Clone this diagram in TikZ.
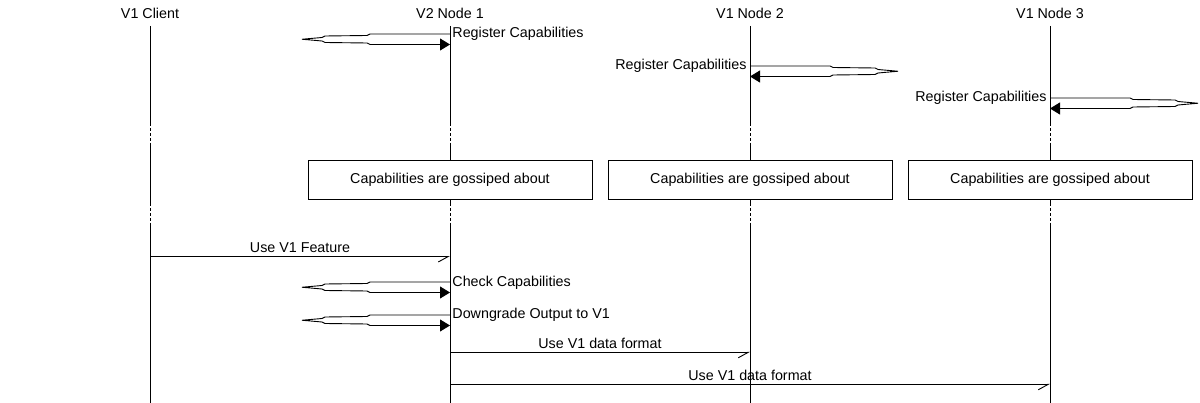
\documentclass[tikz,border=0pt]{standalone}
\usepackage{fontspec}
\setmainfont{Liberation Sans}
\usetikzlibrary{arrows.meta}
\newcommand\selfmsg[3]{%
  \begin{scope}[shift={(#1 |- 0,#2)}, xscale=#3]
    \draw (0,0) -- (80,0) -- (83,1.5) -- (125,2) -- (128,3.5) -- (148,5.25)
          -- (128,7) -- (125,8.5) -- (83,9) -- (80,10.5);
    \draw[syncarrow] (80,10.5) -- (0,10.5);
  \end{scope}}
\begin{document}
\begin{tikzpicture}[x=1pt,y=-1pt,line width=0.9pt,
  every node/.style={font=\fontsize{14.3}{17}\selectfont, inner sep=0pt},
  head/.style={anchor=base},
  gossip/.style={draw, fill=white, minimum width=284pt, minimum height=39pt},
  gapline/.style={dash pattern=on 3pt off 2pt},
  syncarrow/.style={-{Triangle[length=10pt,width=12pt]}},
  asyncarrow/.style={-{Straight Barb[harpoon,swap,length=10pt,width=11pt]}},
  msglabel/.style={pos=0.5, anchor=base, yshift=3.8pt},
]
\useasboundingbox (0,0) rectangle (1200,403);

% headers
\node[head] (c)  at (150,18.3)  {V1 Client};
\node[head] (n1) at (450,18.3)  {V2 Node 1};
\node[head] (n2) at (750,18.3)  {V1 Node 2};
\node[head] (n3) at (1050,18.3) {V1 Node 3};

% lifelines
\foreach \n in {c,n1,n2,n3} {
  \draw (\n |- 0,26) -- (\n |- 0,123);
  \draw[gapline] (\n |- 0,123) -- (\n |- 0,143);
  \draw (\n |- 0,143) -- (\n |- 0,203);
  \draw[gapline] (\n |- 0,203) -- (\n |- 0,223);
  \draw (\n |- 0,223) -- (\n |- 0,403);
}

% register capabilities
\selfmsg{n1}{34}{-1}
\node[anchor=base west] (r1) at (452,37.8) {Register Capabilities};
\selfmsg{n2}{66}{1}
\node[anchor=base east] (r2) at (747,69.8) {Register Capabilities};
\selfmsg{n3}{98}{1}
\node[anchor=base east] (r3) at (1047,101.6) {Register Capabilities};

% gossip boxes
\node[gossip] (g1) at (450,179.5)  {Capabilities are gossiped about};
\node[gossip] (g2) at (750,179.5)  {Capabilities are gossiped about};
\node[gossip] (g3) at (1050,179.5) {Capabilities are gossiped about};

% use v1 feature
\draw[asyncarrow] (c |- 0,256.5) -- (n1 |- 0,256.5) node[msglabel] {Use V1 Feature};

% check / downgrade
\selfmsg{n1}{282}{-1}
\node[anchor=base west] (cc) at (452,286.2) {Check Capabilities};
\selfmsg{n1}{315}{-1}
\node[anchor=base west] (dg) at (452,318.8) {Downgrade Output to V1};

% data format
\draw[asyncarrow] (n1 |- 0,352.3) -- (n2 |- 0,352.3) node[msglabel] {Use V1 data format};
\draw[asyncarrow] (n1 |- 0,384.3) -- (n3 |- 0,384.3) node[msglabel] {Use V1 data format};
\end{tikzpicture}
\end{document}
